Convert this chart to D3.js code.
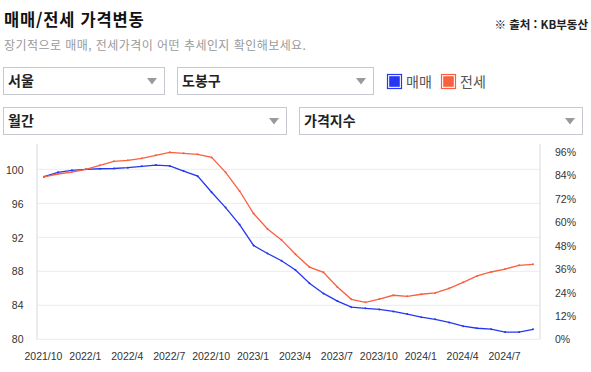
<!DOCTYPE html>
<html lang="ko">
<head>
<meta charset="utf-8">
<script src="https://cdn.jsdelivr.net/npm/d3@7"></script>
<style>
    body { margin: 0; background: #fff; }
    svg { display: block; font-family: 'Noto Sans CJK KR', 'Noto Sans', sans-serif; }
    .tick-label { font-family: 'Liberation Sans', Arial, sans-serif; font-size: 10.5px; fill: #333; }
</style>
</head>
<body>
<svg id="chart" width="591" height="372"></svg>
<script>
'use strict';

const months = [
    '2021/10', '2021/11', '2021/12',
    '2022/1', '2022/2', '2022/3', '2022/4', '2022/5', '2022/6',
    '2022/7', '2022/8', '2022/9', '2022/10', '2022/11', '2022/12',
    '2023/1', '2023/2', '2023/3', '2023/4', '2023/5', '2023/6',
    '2023/7', '2023/8', '2023/9', '2023/10', '2023/11', '2023/12',
    '2024/1', '2024/2', '2024/3', '2024/4', '2024/5', '2024/6',
    '2024/7', '2024/8', '2024/9'
];

// 매매 가격지수
const saleIndex = [
    99.13, 99.65, 99.88, 100.0, 100.07, 100.1, 100.2, 100.35, 100.5,
    100.4, 99.8, 99.2, 97.3, 95.5, 93.5, 91.05, 90.1, 89.25,
    88.15, 86.6, 85.4, 84.5, 83.78, 83.65, 83.52, 83.28, 82.97,
    82.6, 82.35, 81.98, 81.55, 81.3, 81.19, 80.85, 80.85, 81.18
];

// 전세 가격지수
const rentIndex = [
    99.1, 99.45, 99.68, 100.0, 100.47, 100.94, 101.06, 101.3, 101.65,
    102.0, 101.88, 101.76, 101.4, 99.65, 97.45, 94.8, 92.98, 91.7,
    90.0, 88.5, 87.88, 86.15, 84.7, 84.35, 84.74, 85.18, 85.06,
    85.3, 85.45, 86.0, 86.7, 87.45, 87.92, 88.27, 88.7, 88.82
];

const xTicks = ['2021/10', '2022/1', '2022/4', '2022/7', '2022/10', '2023/1',
    '2023/4', '2023/7', '2023/10', '2024/1', '2024/4', '2024/7'];
const leftTicks = [80, 84, 88, 92, 96, 100];
const rightTicks = [0, 12, 24, 36, 48, 60, 72, 84, 96];

const series = [
    {name: '매매', values: saleIndex, colour: '#2537f2'},
    {name: '전세', values: rentIndex, colour: '#f9603f'}
];

const svg = d3.select('#chart');

const plot = {left: 37, right: 540, top: 144, bottom: 339.3};

/* ------------------------------------------------------------------
// Header: title, source, description, select boxes and legend
// ------------------------------------------------------------------*/

function renderSelect(x, y, w, label) {

    let h = 27;
    let g = svg.append('g').attr('transform', `translate(${x}, ${y})`);

    g.append('rect')
        .attr('x', 0.5).attr('y', 0.5)
        .attr('width', w).attr('height', h)
        .attr('fill', '#fff')
        .attr('stroke', '#c6c8cf');

    g.append('text')
        .attr('x', 5)
        .attr('y', h / 2 + 5.5)
        .attr('font-size', 14)
        .attr('font-weight', 700)
        .attr('fill', '#222')
        .text(label);

    let ax = w - 12;
    let ay = h / 2 + 0.5;
    g.append('path')
        .attr('d', `M${ax - 5},${ay - 3}L${ax + 5},${ay - 3}L${ax},${ay + 3.5}Z`)
        .attr('fill', '#9a9a9a');

    return;
}

function renderHeader() {

    svg.append('text')
        .attr('x', 4).attr('y', 26)
        .attr('font-size', 16.5)
        .attr('font-weight', 700)
        .attr('letter-spacing', 0.8)
        .attr('fill', '#111')
        .text('매매/전세 가격변동');

    svg.append('text')
        .attr('x', 588).attr('y', 29)
        .attr('text-anchor', 'end')
        .attr('font-size', 11.5)
        .attr('font-weight', 700)
        .attr('fill', '#222')
        .text('※ 출처 : KB부동산');

    svg.append('text')
        .attr('x', 4).attr('y', 50)
        .attr('font-size', 12)
        .attr('letter-spacing', 0.45)
        .attr('fill', '#9a9a9a')
        .text('장기적으로 매매, 전세가격이 어떤 추세인지 확인해보세요.');

    renderSelect(3, 67, 161, '서울');
    renderSelect(177, 67, 196, '도봉구');
    renderSelect(3, 107, 283, '월간');
    renderSelect(299, 107, 283, '가격지수');

    // Legend
    let legendX = [387, 441];
    series.forEach((s, i) => {
        let g = svg.append('g').attr('transform', `translate(${legendX[i]}, 74)`);
        g.append('rect')
            .attr('x', 0.5).attr('y', 0.5)
            .attr('width', 14).attr('height', 14)
            .attr('fill', '#fff')
            .attr('stroke', s.colour)
            .attr('stroke-width', 1.2);
        g.append('rect')
            .attr('x', 2.2).attr('y', 2.2)
            .attr('width', 10.6).attr('height', 10.6)
            .attr('fill', s.colour);
        g.append('text')
            .attr('x', 19).attr('y', 12.5)
            .attr('font-size', 14)
            .attr('fill', '#555')
            .text(s.name);
    });

    return;
}

/* ------------------------------------------------------------------
// Chart: grid, both axes and the two index lines
// ------------------------------------------------------------------*/

function renderChart() {

    let x = d3.scalePoint()
        .domain(months)
        .range([plot.left, plot.right])
        .padding(0.5);

    let y = d3.scaleLinear()
        .domain([80, 102.98])
        .range([plot.bottom, plot.top]);

    let yRight = d3.scaleLinear()
        .domain([0, 100])
        .range([plot.bottom, plot.top]);

    // Grid lines
    svg.append('g')
        .selectAll('line')
        .data(leftTicks)
        .enter()
        .append('line')
        .attr('x1', plot.left).attr('x2', plot.right)
        .attr('y1', (d) => y(d)).attr('y2', (d) => y(d))
        .attr('stroke', '#ececec')
        .attr('stroke-width', 1);

    // Vertical axis lines
    [plot.left, plot.right].forEach((ax) => {
        svg.append('line')
            .attr('x1', ax).attr('x2', ax)
            .attr('y1', plot.top).attr('y2', plot.bottom)
            .attr('stroke', '#e6e6e6')
            .attr('stroke-width', 1.5);
    });

    // Left axis
    let leftAxis = d3.axisLeft(y).tickValues(leftTicks).tickSize(0).tickPadding(0);
    svg.append('g')
        .attr('transform', 'translate(23.5, 0)')
        .call(leftAxis)
        .call((g) => g.select('.domain').remove())
        .call((g) => g.selectAll('text').attr('class', 'tick-label').attr('dy', '0.35em'));

    // Right axis
    let rightAxis = d3.axisRight(yRight)
        .tickValues(rightTicks)
        .tickFormat((d) => `${d}%`)
        .tickSize(0).tickPadding(0);
    svg.append('g')
        .attr('transform', 'translate(555, 0)')
        .call(rightAxis)
        .call((g) => g.select('.domain').remove())
        .call((g) => g.selectAll('text').attr('class', 'tick-label').attr('dy', '0.35em'));

    // Bottom axis
    let bottomAxis = d3.axisBottom(x).tickValues(xTicks).tickSize(0).tickPadding(0);
    svg.append('g')
        .attr('transform', 'translate(-1, 352)')
        .call(bottomAxis)
        .call((g) => g.select('.domain').remove())
        .call((g) => g.selectAll('text').attr('class', 'tick-label').attr('dy', '0.75em'));

    let line = d3.line()
        .x((d, i) => x(months[i]))
        .y((d) => y(d));

    series.forEach((s) => {
        svg.append('path')
            .datum(s.values)
            .attr('d', line)
            .attr('fill', 'none')
            .attr('stroke', s.colour)
            .attr('stroke-width', 1.3);

        svg.append('g')
            .selectAll('circle')
            .data(s.values)
            .enter()
            .append('circle')
            .attr('cx', (d, i) => x(months[i]))
            .attr('cy', (d) => y(d))
            .attr('r', 1)
            .attr('fill', s.colour);
    });

    return;
}

renderHeader();
renderChart();
</script>
</body>
</html>
